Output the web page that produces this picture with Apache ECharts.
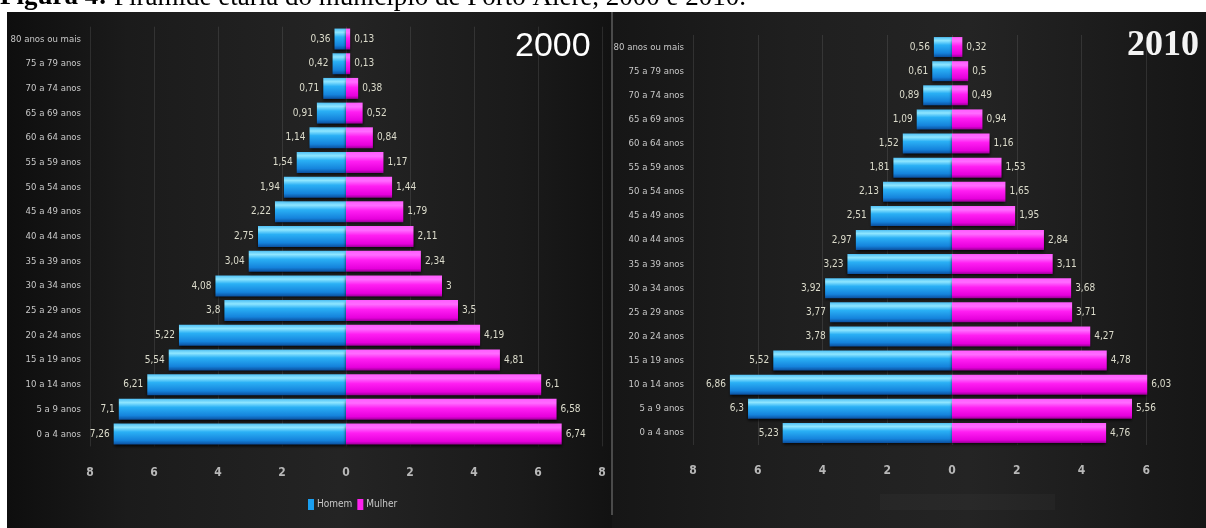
<!DOCTYPE html>
<html>
<head>
<meta charset="utf-8">
<script src="https://cdn.jsdelivr.net/npm/echarts@6/dist/echarts.min.js"></script>
<style>
html,body{margin:0;padding:0;background:#fff;}
#chart{width:1206px;height:528px;}
</style>
</head>
<body>
<div id="chart"></div>
<script>
// Age groups, bottom (youngest) to top (oldest)
var categories = ['0 a 4 anos','5 a 9 anos','10 a 14 anos','15 a 19 anos','20 a 24 anos','25 a 29 anos','30 a 34 anos','35 a 39 anos','40 a 44 anos','45 a 49 anos','50 a 54 anos','55 a 59 anos','60 a 64 anos','65 a 69 anos','70 a 74 anos','75 a 79 anos','80 anos ou mais'];
var men2000   = [7.26, 7.1, 6.21, 5.54, 5.22, 3.8, 4.08, 3.04, 2.75, 2.22, 1.94, 1.54, 1.14, 0.91, 0.71, 0.42, 0.36];
var women2000 = [6.74, 6.58, 6.1, 4.81, 4.19, 3.5, 3, 2.34, 2.11, 1.79, 1.44, 1.17, 0.84, 0.52, 0.38, 0.13, 0.13];
var men2010   = [5.23, 6.3, 6.86, 5.52, 3.78, 3.77, 3.92, 3.23, 2.97, 2.51, 2.13, 1.81, 1.52, 1.09, 0.89, 0.61, 0.56];
var women2010 = [4.76, 5.56, 6.03, 4.78, 4.27, 3.71, 3.68, 3.11, 2.84, 1.95, 1.65, 1.53, 1.16, 0.94, 0.49, 0.5, 0.32];
var seriesNames = ['Homem', 'Mulher'];
var panelTitles = ['2000', '2010'];
var caption = 'Pirâmide etária do município de Porto Alere, 2000 e 2010.';
var captionLabel = 'Figura 4:';

var narrow = "'Liberation Sans Narrow','DejaVu Sans Condensed','Roboto Condensed',sans-serif";
function fmt(v){ return String(Math.abs(v)).replace('.', ','); }

var blueGrad = new echarts.graphic.LinearGradient(0,0,0,1,[
  {offset:0,color:'#4fc0f5'},{offset:0.18,color:'#8fe6ff'},{offset:0.4,color:'#2ab0f5'},
  {offset:0.8,color:'#1583dc'},{offset:1,color:'#0b4f9e'}]);
var pinkGrad = new echarts.graphic.LinearGradient(0,0,0,1,[
  {offset:0,color:'#ff5cff'},{offset:0.2,color:'#ff6cff'},{offset:0.45,color:'#ff1ef2'},
  {offset:0.85,color:'#e600dc'},{offset:1,color:'#9a0096'}]);

var grids = [
  {left:90, width:512, top:26.7, height:419.7, containLabel:false, outerBoundsMode:'none'},
  {left:693, width:518, top:35, height:410, containLabel:false, outerBoundsMode:'none'}
];

function xAxis(i){
  return {
    gridIndex:i, type:'value', min:-8, max:8, interval:2,
    axisLine:{show:false}, axisTick:{show:false},
    axisLabel:{color:'#b8b8b8', fontSize:12, fontFamily:narrow, fontWeight:'bold', margin:20,
      showMinLabel:true, showMaxLabel:true, hideOverlap:false,
      formatter:function(v){ return String(Math.abs(v)); }},
    splitLine:{show:true, lineStyle:{color:'rgba(255,255,255,0.10)', width:1}}
  };
}
function yAxis(i){
  return {
    gridIndex:i, type:'category', data:categories,
    axisLine:{show:false}, axisTick:{show:false}, splitLine:{show:false},
    axisLabel:{color:'#c8c8c8', fontSize:9.5, fontFamily:narrow, margin:9}
  };
}
function barSeries(name, data, gi, side, barW){
  var isMen = side === 'left';
  return {
    name:name, type:'bar', xAxisIndex:gi, yAxisIndex:gi,
    data: data.map(function(v){ return isMen ? -v : v; }),
    barWidth:barW, barGap:'-100%',
    itemStyle:{color: isMen ? blueGrad : pinkGrad, shadowColor:'rgba(0,0,0,0.8)', shadowBlur:3, shadowOffsetY:2},
    label:{show:true, position: side, distance:4, color:'#dcdccc', fontSize:10, fontFamily:narrow,
      formatter:function(p){ return fmt(p.value); }}
  };
}

var option = {
  backgroundColor:'#ffffff',
  animation:false,
  grid: grids,
  xAxis: [xAxis(0), xAxis(1)],
  yAxis: [yAxis(0), yAxis(1)],
  legend:{
    left:303, top:494, itemWidth:6, itemHeight:11, itemGap:5, icon:'rect',
    textStyle:{color:'#c8c8c8', fontSize:10, fontFamily:narrow, padding:[0,0,0,-2]},
    data:[{name:seriesNames[0], itemStyle:{color:'#1a9ff0'}},{name:seriesNames[1], itemStyle:{color:'#ff22ee'}}]
  },
  series:[
    barSeries(seriesNames[0], men2000, 0, 'left', 21),
    barSeries(seriesNames[1], women2000, 0, 'right', 21),
    barSeries(seriesNames[0], men2010, 1, 'left', 20),
    barSeries(seriesNames[1], women2010, 1, 'right', 20)
  ],
  graphic:[
    {type:'rect', z:-10, shape:{x:7,y:12,width:605,height:516},
      style:{fill:new echarts.graphic.LinearGradient(0,0,1,0,[
        {offset:0,color:'#0e0e0e'},{offset:0.2,color:'#1b1b1b'},{offset:0.55,color:'#242424'},
        {offset:0.85,color:'#1a1a1a'},{offset:1,color:'#121212'}])}},
    {type:'rect', z:-10, shape:{x:612,y:12,width:594,height:516},
      style:{fill:new echarts.graphic.LinearGradient(0,0,1,0,[
        {offset:0,color:'#161616'},{offset:0.3,color:'#1f1f1f'},{offset:0.6,color:'#242424'},
        {offset:1,color:'#161616'}])}},
    {type:'rect', z:-9, shape:{x:611,y:12,width:2,height:503}, style:{fill:'#4a4a4a'}},
    {type:'rect', z:-9, shape:{x:880,y:494,width:175,height:16}, style:{fill:'rgba(255,255,255,0.025)'}},
    {type:'text', z:100, left:515, top:30,
      style:{text:panelTitles[0], fill:'#ffffff', font:"normal 34px 'Liberation Sans',Arial,sans-serif"}},
    {type:'text', z:100, left:1127, top:28,
      style:{text:panelTitles[1], fill:'#f4f4f4', font:"bold 36px 'Liberation Serif','DejaVu Serif',serif"}},
    {type:'text', z:100, left:0, top:-16,
      style:{text:'{b|' + captionLabel + '} ' + caption, fill:'#000', font:"27px 'Liberation Serif',serif",
        rich:{b:{fontWeight:'bold', fontSize:27, fontFamily:"'Liberation Serif',serif", fill:'#000'}}}}
  ]
};
var chart = echarts.init(document.getElementById('chart'), null, {renderer:'canvas'});
chart.setOption(option);
</script>
</body>
</html>
